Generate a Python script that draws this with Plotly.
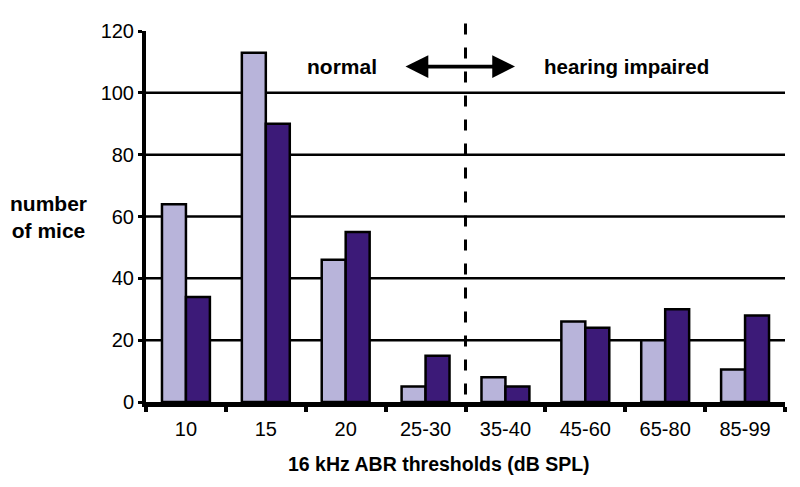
import plotly.graph_objects as go

categories = ["10", "15", "20", "25-30", "35-40", "45-60", "65-80", "85-99"]
series_light = [64, 113, 46, 5, 8, 26, 20, 10.5]
series_dark = [34, 90, 55, 15, 5, 24, 30, 28]
y_ticks = [0, 20, 40, 60, 80, 100, 120]
grid_values = [20, 40, 60, 80, 100]

LIGHT = "#b8b4da"
DARK = "#3c1a78"
FONT = "Liberation Sans, Arial, sans-serif"

fig = go.Figure()
fig.add_trace(go.Bar(x=categories, y=series_light, marker=dict(color=LIGHT, line=dict(color="black", width=2.5))))
fig.add_trace(go.Bar(x=categories, y=series_dark, marker=dict(color=DARK, line=dict(color="black", width=2.5))))

shapes = []
for g in grid_values:
    shapes.append(dict(type="line", xref="paper", yref="y", x0=0, x1=1, y0=g, y1=g,
                       line=dict(color="black", width=2.5), layer="below"))
# dashed divider between normal and impaired (boundary between 25-30 and 35-40)
shapes.append(dict(type="line", xref="x", yref="paper", x0=3.5, x1=3.5, y0=1.02, y1=0,
                   line=dict(color="black", width=3, dash="11px,13px")))

annotations = [
    dict(text="normal", x=1.95, y=108.5, xref="x", yref="y", showarrow=False,
         font=dict(size=21, family=FONT, color="black", weight="bold")),
    dict(text="hearing impaired", x=5.52, y=108.5, xref="x", yref="y", showarrow=False,
         font=dict(size=20.5, family=FONT, color="black", weight="bold")),
    dict(text="", x=4.12, y=108.5, ax=2.73, ay=108.5, xref="x", yref="y", axref="x", ayref="y",
         showarrow=True, arrowhead=2, arrowside="end+start", arrowsize=1.2, arrowwidth=3.8,
         arrowcolor="black"),
    dict(text="number<br>of mice", x=-0.153, y=60, xref="paper", yref="y", showarrow=False,
         xanchor="center", yanchor="middle",
         font=dict(size=21, family=FONT, color="black", weight="bold"), align="center"),
    dict(text="16 kHz ABR thresholds (dB SPL)", x=0.459, y=-0.168, xref="paper", yref="paper",
         xanchor="center", yanchor="middle",
         showarrow=False, font=dict(size=19.5, family=FONT, color="black", weight="bold")),
]

fig.update_layout(
    width=792, height=479,
    margin=dict(l=138, r=15, t=17, b=85),
    paper_bgcolor="white", plot_bgcolor="white",
    barmode="group", bargap=0.4, bargroupgap=0,
    showlegend=False,
    font=dict(family=FONT, color="black", size=20),
    shapes=shapes, annotations=annotations,
    xaxis=dict(range=[-0.5, 7.5], showline=True, linecolor="black", linewidth=5,
               ticks="outside", tickson="boundaries", ticklen=5, tickwidth=4, tickcolor="black",
               ticklabelstandoff=5,
               showgrid=False, tickfont=dict(size=20), zeroline=False),
    yaxis=dict(range=[0, 120], tickvals=y_ticks, showline=True, linecolor="black", linewidth=4,
               ticks="outside", ticklen=4, tickwidth=3, tickcolor="black",
               showgrid=False, zeroline=False, tickfont=dict(size=20)),
)

fig.write_html("out.html")
